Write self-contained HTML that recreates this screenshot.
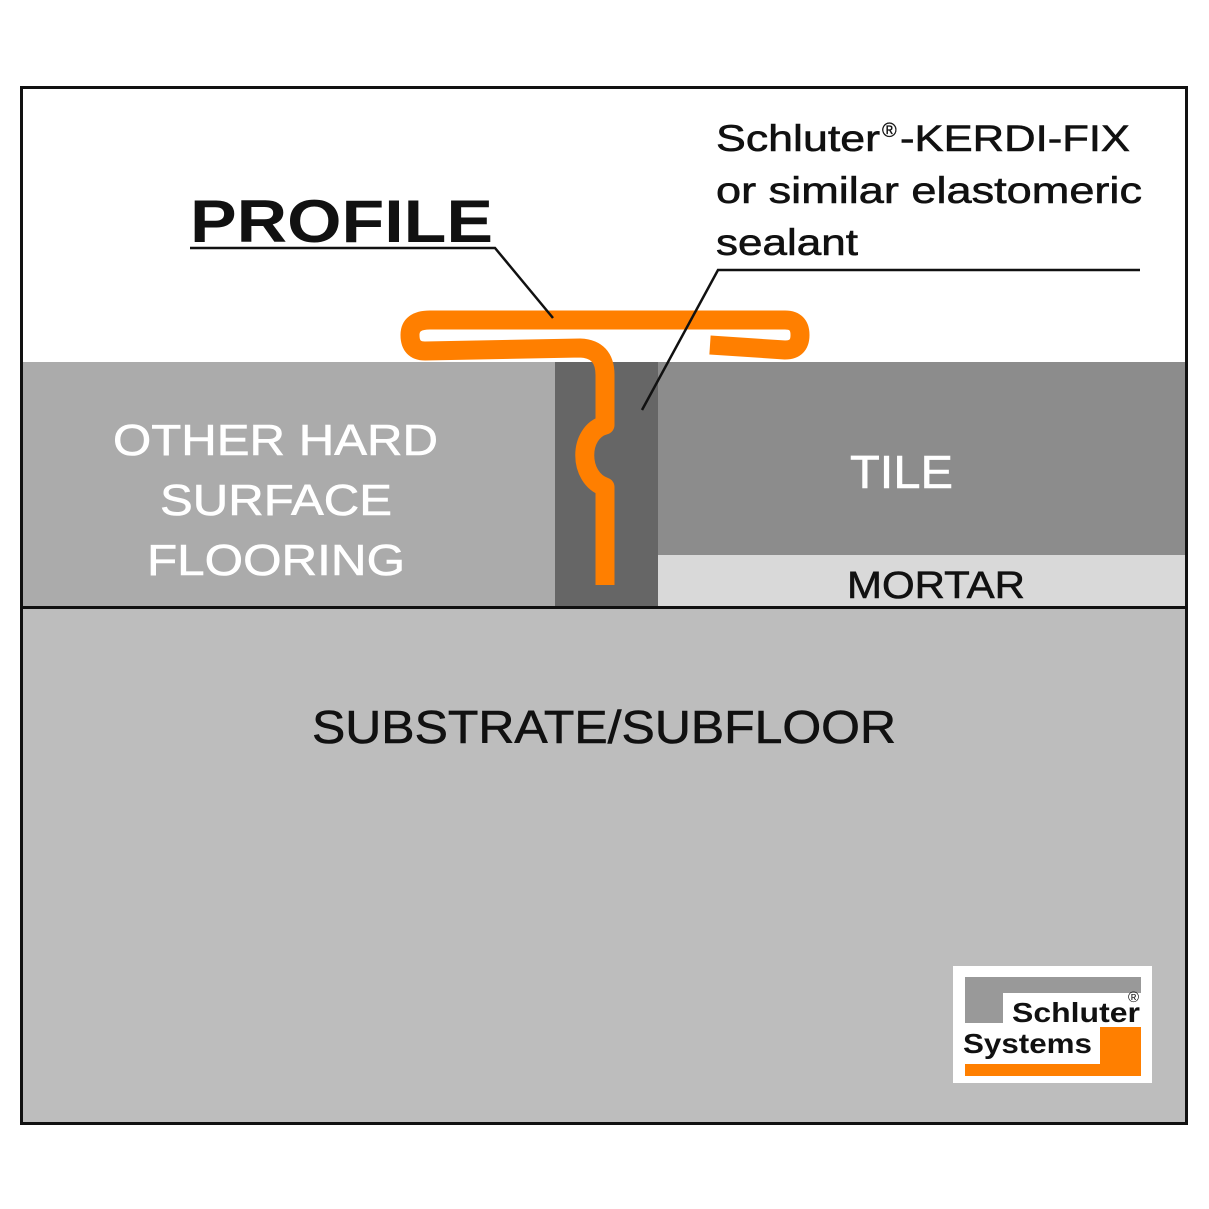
<!DOCTYPE html>
<html><head><style>
body{margin:0;background:#fff;}
svg{display:block;}
text{font-family:"Liberation Sans",Arial,sans-serif;}
</style></head><body>
<svg width="1209" height="1209" viewBox="0 0 1209 1209">
<rect x="0" y="0" width="1209" height="1209" fill="#fff"/>
<rect x="22" y="362" width="533" height="246" fill="#ababab"/>
<rect x="555" y="362" width="103" height="246" fill="#666"/>
<rect x="658" y="362" width="529" height="193" fill="#8c8c8c"/>
<rect x="658" y="555" width="529" height="52" fill="#d9d9d9"/>
<rect x="22" y="608" width="1165" height="515" fill="#bdbdbd"/>
<line x1="20" y1="607.5" x2="1188" y2="607.5" stroke="#111" stroke-width="3"/>
<rect x="21.5" y="87.5" width="1165" height="1036" fill="none" stroke="#111" stroke-width="3"/>
<path d="M605,585 V487 C578,478 578,432 605,425 V375 Q605,349 580,348 L425,351 Q410,351 410,335 Q410,320 430,320 L785,320 Q800,320 800,335 Q800,350 785,350 L710,345" fill="none" stroke="#ff7f00" stroke-width="19" stroke-linejoin="round"/>
<polyline points="190,248 495,248 553,318" fill="none" stroke="#111" stroke-width="2.5"/>
<polyline points="1140,270 718,270 642,410" fill="none" stroke="#111" stroke-width="2.5"/>
<text x="190" y="242" font-size="60" font-weight="bold" fill="#111" textLength="303" lengthAdjust="spacingAndGlyphs">PROFILE</text>
<g fill="#111" stroke="#111" stroke-width="0.6">
<text x="716" y="151" font-size="37" textLength="164" lengthAdjust="spacingAndGlyphs">Schluter</text>
<text x="882" y="137" font-size="20" stroke-width="0.3">®</text>
<text x="900" y="151" font-size="37" textLength="230" lengthAdjust="spacingAndGlyphs">-KERDI-FIX</text>
<text x="716" y="203" font-size="37" textLength="426" lengthAdjust="spacingAndGlyphs">or similar elastomeric</text>
<text x="716" y="255" font-size="37" textLength="142" lengthAdjust="spacingAndGlyphs">sealant</text>
</g>
<g fill="#fff" stroke="#fff" stroke-width="0.6" font-size="44">
<text x="113" y="455" textLength="325" lengthAdjust="spacingAndGlyphs">OTHER HARD</text>
<text x="160" y="515" textLength="232" lengthAdjust="spacingAndGlyphs">SURFACE</text>
<text x="147" y="575" textLength="258" lengthAdjust="spacingAndGlyphs">FLOORING</text>
<text x="850" y="488" font-size="46" textLength="103" lengthAdjust="spacingAndGlyphs">TILE</text>
</g>
<g fill="#111" stroke="#111" stroke-width="0.6">
<text x="847" y="598" font-size="38" textLength="178" lengthAdjust="spacingAndGlyphs">MORTAR</text>
<text x="312" y="743" font-size="46" textLength="584" lengthAdjust="spacingAndGlyphs">SUBSTRATE/SUBFLOOR</text>
</g>
<rect x="953" y="966" width="199" height="117" fill="#fff"/>
<path d="M965,977 H1141 V993 H1003 V1023 H965 Z" fill="#999"/>
<path d="M1100,1027 H1141 V1076 H965 V1064 H1100 Z" fill="#ff7f00"/>
<text x="1012" y="1022" font-size="28" font-weight="bold" fill="#111" textLength="128" lengthAdjust="spacingAndGlyphs">Schluter</text>
<text x="963" y="1053" font-size="28" font-weight="bold" fill="#111" textLength="129" lengthAdjust="spacingAndGlyphs">Systems</text>
<text x="1128" y="1002" font-size="15" fill="#111">®</text>
</svg>
</body></html>
